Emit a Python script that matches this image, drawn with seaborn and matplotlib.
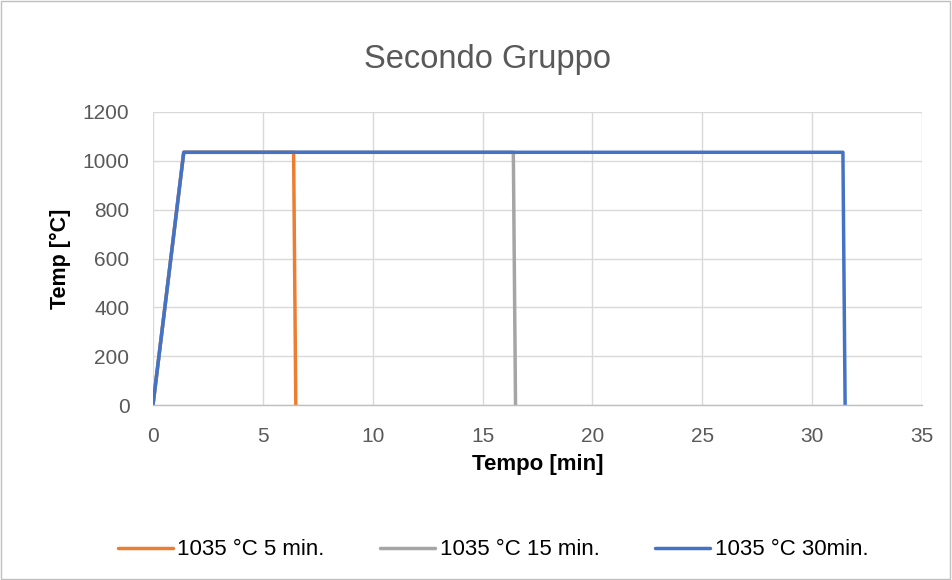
import matplotlib
matplotlib.use("Agg")
import matplotlib.pyplot as plt
import seaborn as sns
import pandas as pd
from matplotlib.patches import Rectangle

series_names = ["1035 °C 5 min.", "1035 °C 15 min.", "1035 °C 30min."]
t_5 = [0, 1.4, 6.4, 6.5]
T_5 = [0, 1035, 1035, 0]
t_15 = [0, 1.4, 16.4, 16.5]
T_15 = [0, 1035, 1035, 0]
t_30 = [0, 1.4, 31.4, 31.5]
T_30 = [0, 1035, 1035, 0]
colors = ["#ED7D31", "#A5A5A5", "#4472C4"]

rows = []
for name, ts, Ts in zip(series_names, [t_5, t_15, t_30], [T_5, T_15, T_30]):
    for t, T in zip(ts, Ts):
        rows.append({"Tempo": t, "Temp": T, "Serie": name})
df = pd.DataFrame(rows)

sns.set_style("white")
plt.rcParams["font.family"] = ["Liberation Sans", "DejaVu Sans"]

fig = plt.figure(figsize=(9.52, 5.8), dpi=100)
ax = fig.add_axes([0.1607, 0.3017, 0.8078, 0.5052])

sns.lineplot(data=df, x="Tempo", y="Temp", hue="Serie", hue_order=series_names,
             palette=colors, sort=False, estimator=None, units="Serie",
             linewidth=2.5, ax=ax, legend=True)

ax.set_xlim(0, 35)
ax.set_ylim(0, 1200)
ax.set_xticks(range(0, 36, 5))
ax.set_yticks(range(0, 1201, 200))
ax.grid(True, color="#D9D9D9", linewidth=1)
ax.set_axisbelow(True)
for s in ["top", "right", "left"]:
    ax.spines[s].set_visible(False)
ax.spines["bottom"].set_color("#BFBFBF")
ax.spines["bottom"].set_linewidth(1)
ax.tick_params(axis="both", length=0, labelsize=15, colors="#595959")
ax.tick_params(axis="x", pad=16)
ax.tick_params(axis="y", pad=17)
ax.set_xlabel("Tempo [min]", fontsize=16, fontweight="bold", color="black", va="center")
ax.set_ylabel("Temp [°C]", fontsize=15.5, fontweight="bold", color="black", va="center")
ax.xaxis.set_label_coords(0.5, -0.203)
ax.yaxis.set_label_coords(-0.12, 0.5)

handles, labels = ax.get_legend_handles_labels()
ax.get_legend().remove()
leg = fig.legend(handles, labels, loc="center", bbox_to_anchor=(0.518, 0.052), ncol=3,
                 frameon=False, fontsize=16, handlelength=2.45, columnspacing=2.5,
                 handletextpad=0.22, labelcolor="black")
for h in leg.legend_handles:
    h.set_linewidth(2.5)

fig.text(0.512, 0.882, "Secondo Gruppo", ha="center", va="baseline", fontsize=23.5, color="#595959")

fig.patches.append(Rectangle((0.001, 0.001), 0.997, 0.997, transform=fig.transFigure,
                             fill=False, edgecolor="#BFBFBF", linewidth=1))

fig.savefig("out.png", dpi=100)
